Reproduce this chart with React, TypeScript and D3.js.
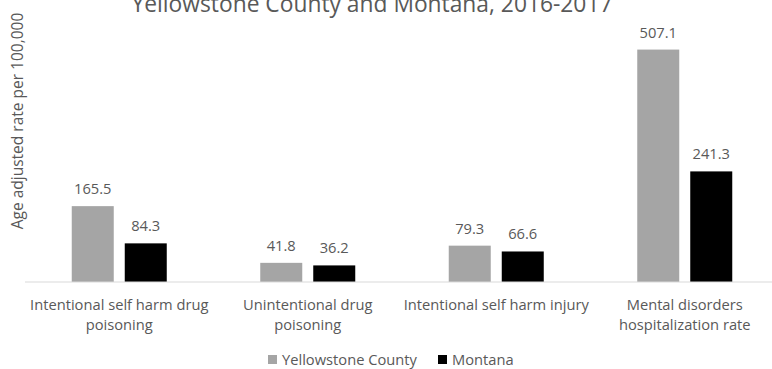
import React from "react";
import * as d3 from "d3";

const categories: string[][] = [
  ["Intentional self harm drug", "poisoning"],
  ["Unintentional drug", "poisoning"],
  ["Intentional self harm injury"],
  ["Mental disorders", "hospitalization rate"],
];
const categoryKeys = ["c1", "c2", "c3", "c4"];
const seriesNames = ["Yellowstone County", "Montana"];
const yellowstone = [165.5, 41.8, 79.3, 507.1];
const montana = [84.3, 36.2, 66.6, 241.3];
const seriesColors = ["#A5A5A5", "#000000"];
const titleText = "Yellowstone County and Montana, 2016-2017";
const yAxisTitle = "Age adjusted rate per 100,000";

const W = 772;
const H = 369;
const FONT = "'Open Sans', sans-serif";
const TXT = "#595959";

export default function App() {
  const x0 = d3.scaleBand<string>().domain(categoryKeys).range([25, 779]);
  const x1 = d3
    .scaleBand<string>()
    .domain(seriesNames)
    .range([0, x0.bandwidth()])
    .paddingInner(0.2075)
    .paddingOuter(0.882);
  const y = d3.scaleLinear().domain([0, 600]).range([282, 7]);
  const values = [yellowstone, montana];

  return (
    <svg
      width={W}
      height={H}
      style={{ position: "absolute", left: 0, top: 0, background: "#fff" }}
      fontFamily={FONT}
    >
      <text x={372} y={12} textAnchor="middle" fontSize={22.8} fill={TXT}>
        {titleText}
      </text>
      <text
        transform={`translate(23,121) rotate(-90)`}
        textAnchor="middle"
        fontSize={15.5}
        fill={TXT}
      >
        {yAxisTitle}
      </text>
      {categoryKeys.map((k, ci) => (
        <g key={k} transform={`translate(${x0(k)},0)`}>
          {seriesNames.map((s, si) => {
            const v = values[si][ci];
            const bx = x1(s)!;
            return (
              <g key={s}>
                <rect
                  x={bx}
                  y={y(v)}
                  width={x1.bandwidth()}
                  height={y(0) - y(v)}
                  fill={seriesColors[si]}
                />
                <text
                  x={bx + x1.bandwidth() / 2}
                  y={y(v) - 12}
                  textAnchor="middle"
                  fontSize={14.7}
                  fill={TXT}
                >
                  {v.toFixed(1)}
                </text>
              </g>
            );
          })}
          {categories[ci].map((line, li) => (
            <text
              key={li}
              x={x0.bandwidth() / 2}
              y={310 + li * 20}
              textAnchor="middle"
              fontSize={14.7}
              fill={TXT}
            >
              {line}
            </text>
          ))}
        </g>
      ))}
      <line x1={25} x2={W} y1={282} y2={282} stroke="#D9D9D9" strokeWidth={1} />
      <g>
        <rect x={268} y={355} width={9} height={9} fill={seriesColors[0]} />
        <text x={282} y={364.5} fontSize={14.7} fill={TXT}>
          {seriesNames[0]}
        </text>
        <rect x={438} y={355} width={9} height={9} fill={seriesColors[1]} />
        <text x={452} y={364.5} fontSize={14.7} fill={TXT}>
          {seriesNames[1]}
        </text>
      </g>
    </svg>
  );
}
